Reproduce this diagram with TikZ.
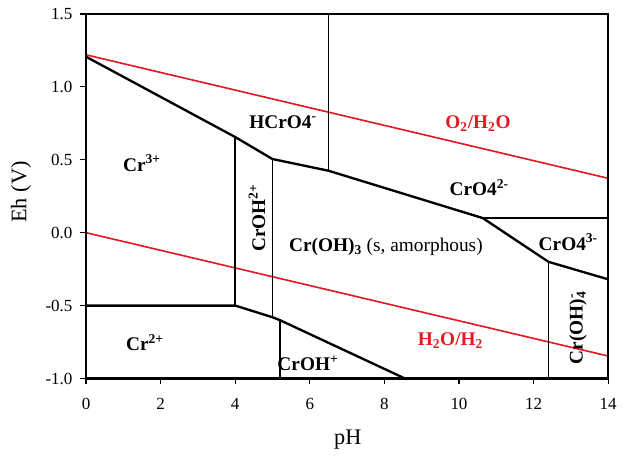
\documentclass[tikz,border=0pt]{standalone}
\usepackage{fontspec}
\setmainfont{Liberation Serif}
\usetikzlibrary{positioning}
\definecolor{waterred}{RGB}{226,26,34}

\begin{document}
\begin{tikzpicture}[x=1.119cm, y=4.374cm,
  phase/.style={font=\fontsize{16.5}{19}\selectfont\bfseries},
  water/.style={font=\fontsize{16.5}{19}\selectfont\bfseries, text=waterred},
  ticklab/.style={font=\fontsize{14.5}{16}\selectfont, inner sep=0pt},
  axlab/.style={font=\fontsize{19}{21}\selectfont},
  bound/.style={line width=2pt, line join=round},
  edge/.style={line width=1.5pt},
  wline/.style={line width=1.4pt, draw=waterred}]
\useasboundingbox (-2.306,-1.559) rectangle (14.424,1.596);

% water stability lines
\draw[wline] (0,1.22) -- (14,0.373);
\draw[wline] (0,0) -- (14,-0.846);

% vertices of the phase boundaries
\coordinate (a) at (0,1.207);
\coordinate (b) at (4,0.656);
\coordinate (c) at (5,0.505);
\coordinate (d) at (6.5,0.425);
\coordinate (e) at (10.64,0.1);
\coordinate (f) at (12.4,-0.2);
\coordinate (g) at (14,-0.32);
\coordinate (h) at (4,-0.5);
\coordinate (i) at (5,-0.58);
\coordinate (j) at (5.2,-0.6);
\coordinate (k) at (8.55,-1);

\draw[bound] (a) -- (b) -- (c) -- (d) -- (e) -- (f) -- (g);
\draw[bound] (e) -- (14,0.1);
\draw[bound] (0,-0.5) -- (h) -- (i) -- (j) -- (k);
\draw[edge] (d) -- (6.5,1.5);
\draw[edge] (b) -- (h);
\draw[edge] (c) -- (i);
\draw[edge] (j) -- (5.2,-1);
\draw[edge] (f) -- (12.4,-1);

% frame and ticks
\draw[line width=1.8pt] (0,-1) rectangle (14,1.5);
\foreach \v in {-1.0,-0.5,0.0,0.5,1.0,1.5}
  \draw[line width=1pt] (0,\v) -- ++(-0.18cm,0) node[left=6pt, ticklab] {\v};
\foreach \p in {0,2,...,14}
  \draw[line width=1pt] (\p,-1) -- ++(0,-0.18cm) node[below=11pt, ticklab] {\p};

\node[axlab] (phlab) at (7.02,-1.422) {pH};
\node[axlab, rotate=90] (ehlab) at (-1.743,0.279) {Eh (V)};

% species fields
\node[phase] (hcro4) at (5.28,0.759) {HCrO4\textsuperscript{-}};
\node[phase] (cr3) at (1.5,0.478) {Cr\textsuperscript{3+}};
\node[phase, rotate=90] (croh2) at (4.585,0.101) {CrOH\textsuperscript{2+}};
\node[font=\fontsize{16.5}{19}\selectfont] (croh3) at (8.04,-0.098)
  {\textbf{Cr(OH)\textsubscript{3}} (s, amorphous)};
\node[phase] (cro42) at (10.54,0.307) {CrO4\textsuperscript{2-}};
\node[phase] (cro43) at (12.93,-0.064) {CrO4\textsuperscript{3-}};
\node[phase, rotate=90] (croh4) at (13.19,-0.654)
  {Cr(OH)\makebox[0pt][l]{\textsuperscript{-}}\textsubscript{4}};
\node[phase] (cr2) at (1.58,-0.753) {Cr\textsuperscript{2+}};
\node[phase] (croh) at (5.95,-0.894) {CrOH\textsuperscript{+}};

\node[water] (oxy) at (10.51,0.751) {O\textsubscript{2}/H\textsubscript{2}O};
\node[water] (hyd) at (9.77,-0.743) {H\textsubscript{2}O/H\textsubscript{2}};
\end{tikzpicture}
\end{document}
